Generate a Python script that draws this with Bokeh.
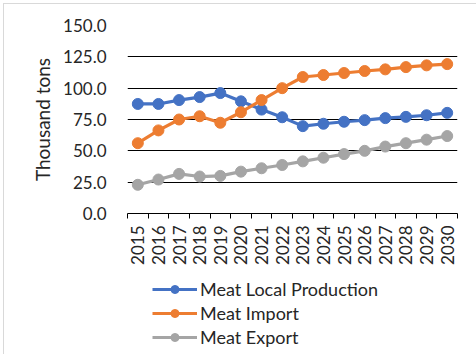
import math
from bokeh.plotting import figure
from bokeh.layouts import column
from bokeh.models import FixedTicker, Legend, LegendItem, ColumnDataSource, NumeralTickFormatter
from bokeh.embed import file_html
from bokeh.resources import INLINE

years = ["2015", "2016", "2017", "2018", "2019", "2020", "2021", "2022",
         "2023", "2024", "2025", "2026", "2027", "2028", "2029", "2030"]
local_production = [87.4, 87.4, 90.5, 92.9, 96.1, 89.5, 82.9, 76.8,
                    69.7, 71.6, 73.2, 74.5, 76.1, 77.1, 78.4, 80.3]
meat_import = [56.1, 66.3, 75.0, 77.6, 72.4, 80.8, 90.5, 100.0,
               108.9, 110.5, 112.1, 113.7, 115.0, 116.8, 118.2, 119.2]
meat_export = [22.9, 27.1, 31.6, 29.5, 30.0, 33.4, 36.1, 38.7,
               41.6, 44.5, 47.4, 50.0, 53.4, 56.1, 58.9, 61.8]
y_ticks = [0, 25, 50, 75, 100, 125, 150]

FONT = "Lato"
FS = "17px"
TXT = "#262626"

series = [("local", "#4472C4", "Meat Local Production"),
          ("imp", "#ED7D31", "Meat Import"),
          ("exp", "#A5A5A5", "Meat Export")]

xs = [i + 0.5 for i in range(len(years))]
src = ColumnDataSource(dict(x=xs, local=local_production, imp=meat_import, exp=meat_export))

p = figure(width=476, height=270, x_range=(0, len(years)), y_range=(0, 150),
           output_backend="svg", toolbar_location=None,
           min_border_left=127, min_border_right=19, min_border_top=25, min_border_bottom=57)
p.outline_line_color = None
p.border_fill_alpha = 0

for col, color, label in series:
    p.line("x", col, source=src, line_color=color, line_width=3.2)
    p.scatter("x", col, source=src, size=11, fill_color=color, line_color=color)

# y axis: labels only, gridlines in black
p.yaxis.ticker = FixedTicker(ticks=y_ticks)
p.yaxis.formatter = NumeralTickFormatter(format="0.0")
p.yaxis.axis_line_color = None
p.yaxis.major_tick_line_color = None
p.yaxis.minor_tick_line_color = None
p.yaxis.major_label_text_font = FONT
p.yaxis.major_label_text_font_size = FS
p.yaxis.major_label_text_color = TXT
p.yaxis.major_label_standoff = 15
p.yaxis.axis_label = "Thousand tons"
p.yaxis.axis_label_text_font = FONT
p.yaxis.axis_label_text_font_size = "19px"
p.yaxis.axis_label_text_font_style = "normal"
p.yaxis.axis_label_text_color = TXT
p.yaxis.axis_label_standoff = 6
p.ygrid.ticker = FixedTicker(ticks=y_ticks)
p.ygrid.grid_line_color = "black"
p.ygrid.grid_line_width = 1
p.xgrid.grid_line_color = None

# x axis: year labels at category centres, tick marks between categories
p.xaxis.ticker = FixedTicker(ticks=xs, minor_ticks=list(range(len(years) + 1)))
p.xaxis.major_label_overrides = {x: y for x, y in zip(xs, years)}
p.xaxis.major_label_orientation = math.pi / 2
p.xaxis.major_label_text_font = FONT
p.xaxis.major_label_text_font_size = FS
p.xaxis.major_label_text_color = TXT
p.xaxis.major_label_standoff = 7
p.xaxis.major_tick_out = 0
p.xaxis.major_tick_in = 0
p.xaxis.minor_tick_out = 5
p.xaxis.minor_tick_in = 0
p.xaxis.minor_tick_line_color = "black"
p.xaxis.axis_line_color = "black"

# legend panel underneath the chart (its frame lines up with the chart frame)
lg = figure(width=476, height=84, x_range=(0, 1), y_range=(0, 1),
            output_backend="svg", toolbar_location=None,
            min_border_left=0, min_border_right=0, min_border_top=0, min_border_bottom=0)
lg.axis.visible = False
lg.grid.grid_line_color = None
lg.outline_line_color = None
lg.border_fill_alpha = 0
lg.background_fill_alpha = 0
nan = float("nan")
items = []
for col, color, label in series:
    ln = lg.line(x=[nan], y=[nan], line_color=color, line_width=3.2)
    mk = lg.scatter(x=[nan], y=[nan], size=11, fill_color=color, line_color=color)
    items.append(LegendItem(label=label, renderers=[ln, mk]))
legend = Legend(items=items, location=(25, 6), orientation="vertical",
                label_text_font=FONT, label_text_font_size="18px", label_text_color=TXT,
                glyph_width=45, glyph_height=20, spacing=2, label_standoff=3,
                padding=0, margin=0, border_line_color=None, background_fill_alpha=0)
lg.add_layout(legend)

# thin light frame line along the top and left of the chart area
frame_shadow = ("inset 0 3px 0 0 #fff, inset 3px 0 0 0 #fff, "
                "inset 0 4px 0 0 #d9d9d9, inset 4px 0 0 0 #d9d9d9")
layout = column(p, lg, spacing=0,
                styles={"background-color": "white", "box-shadow": frame_shadow})
open("out.html", "w").write(file_html(layout, INLINE))
